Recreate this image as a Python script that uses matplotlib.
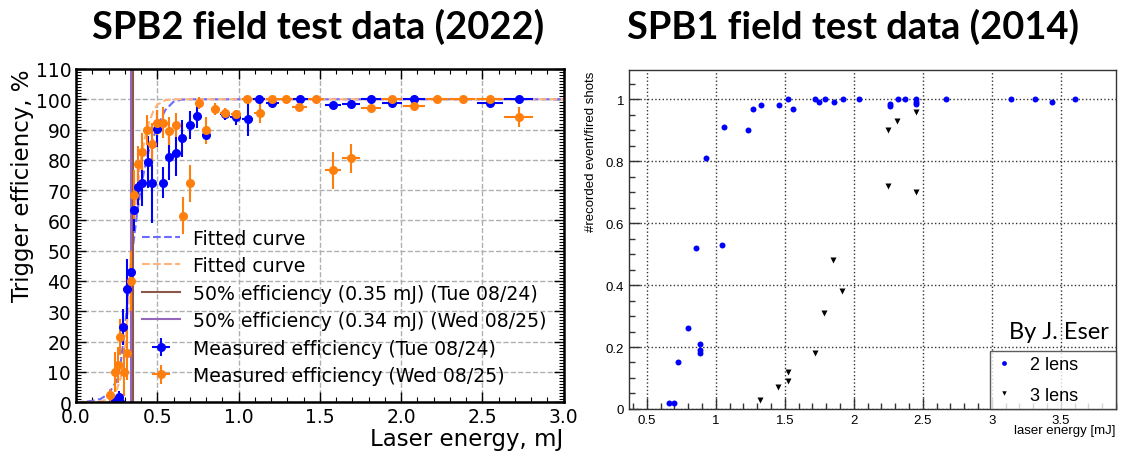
import numpy as np
import matplotlib
matplotlib.use('Agg')
import matplotlib.pyplot as plt
from matplotlib.ticker import MultipleLocator, FuncFormatter

# ---- left panel: SPB2 (2022) ----
tue_e = [0.24, 0.262, 0.272, 0.292, 0.311, 0.337, 0.358, 0.383, 0.409, 0.44, 0.47,
         0.501, 0.538, 0.573, 0.613, 0.654, 0.701, 0.746, 0.798, 0.916, 0.982, 1.057,
         1.127, 1.207, 1.38, 1.581, 1.693, 1.814, 1.943, 2.078, 2.546, 2.724]
tue_eff = [0.5, 1.8, 0.0, 24.7, 37.3, 43.0, 63.6, 71.0, 72.4, 79.3, 72.5,
           90.3, 72.5, 80.9, 82.3, 87.1, 91.5, 94.5, 88.2, 95.0, 94.1, 93.6,
           100, 98.7, 100, 98.2, 98.6, 100, 98.9, 100, 98.9, 100]
tue_yerr = [1, 2, 1, 6, 10, 7, 7, 6, 7.5, 8.5, 13.5,
            6, 5, 7.5, 7.5, 6, 4.7, 4, 1.5, 2, 2.5, 5.8,
            0.3, 0.6, 0.3, 0.6, 0.4, 0.3, 0.5, 0.3, 0.5, 0.3]
tue_xerr = [0.008, 0.009, 0.009, 0.01, 0.01, 0.011, 0.012, 0.013, 0.013, 0.014, 0.015,
            0.016, 0.017, 0.018, 0.02, 0.021, 0.022, 0.024, 0.025, 0.03, 0.032, 0.034,
            0.036, 0.04, 0.045, 0.05, 0.055, 0.06, 0.062, 0.066, 0.08, 0.088]

wed_e = [0.211, 0.239, 0.256, 0.272, 0.297, 0.313, 0.337, 0.358, 0.383, 0.409, 0.436,
         0.47, 0.501, 0.538, 0.573, 0.613, 0.658, 0.701, 0.755, 0.80, 0.857, 0.916,
         0.986, 1.055, 1.129, 1.207, 1.293, 1.374, 1.475, 1.581, 1.693, 1.814, 1.943,
         2.078, 2.223, 2.378, 2.546, 2.724]
wed_eff = [2.3, 10.0, 12.3, 21.4, 10.0, 16.3, 40.0, 68.5, 78.7, 82.7, 89.8,
           85.3, 92.3, 92.3, 89.5, 91.4, 61.6, 72.2, 98.8, 89.7, 96.7, 95.6,
           95.3, 100, 95.6, 100, 100, 97.5, 100, 76.5, 80.5, 97.2, 100,
           97.8, 100, 100, 100, 94.2]
wed_yerr = [2, 6.5, 6, 6, 8, 9, 10, 8, 6, 6, 5,
            7, 4, 5, 4.5, 4, 6, 6, 2, 4.5, 2, 1.5,
            1, 0.3, 3.4, 0.3, 0.3, 0.6, 0.3, 6.2, 4.8, 1, 0.3,
            0.6, 0.3, 0.3, 0.3, 3.3]
wed_xerr = [0.008, 0.009, 0.009, 0.009, 0.01, 0.01, 0.011, 0.012, 0.013, 0.013, 0.014,
            0.015, 0.016, 0.017, 0.018, 0.02, 0.021, 0.022, 0.024, 0.025, 0.027, 0.03,
            0.032, 0.034, 0.036, 0.04, 0.042, 0.045, 0.048, 0.05, 0.055, 0.06, 0.062,
            0.066, 0.07, 0.075, 0.08, 0.09]

# fitted curves
fit_tue_e = [0.0, 0.05, 0.10, 0.15, 0.20, 0.25, 0.275, 0.30, 0.325, 0.35, 0.375, 0.40,
             0.425, 0.45, 0.50, 0.55, 0.60, 0.65, 0.70, 3.0]
fit_tue_eff = [0.0, 0.1, 0.4, 1.0, 2.7, 7.0, 13.0, 24.0, 38.0, 51.0, 62.0, 71.0,
               78.0, 83.5, 91.0, 96.5, 99.2, 99.9, 100, 100]
fit_wed_e = [0.0, 0.10, 0.15, 0.20, 0.225, 0.25, 0.275, 0.30, 0.32, 0.34, 0.36, 0.38,
             0.40, 0.425, 0.45, 0.475, 0.50, 0.55, 0.60, 3.0]
fit_wed_eff = [0.0, 0.05, 0.2, 1.0, 1.8, 4.0, 8.0, 17.0, 30.0, 50.0, 62.0, 72.0,
               80.5, 87.5, 92.5, 96.0, 98.2, 99.7, 100, 100]
half_tue = 0.35
half_wed = 0.34

# ---- right panel: SPB1 (2014) ----
lens2_e = [0.662, 0.698, 0.729, 0.795, 0.86, 0.884, 0.884, 0.884, 0.928, 1.046, 1.058,
           1.234, 1.27, 1.326, 1.459, 1.524, 1.563, 1.722, 1.749, 1.79, 1.855, 1.92,
           2.04, 2.26, 2.26, 2.32, 2.37, 2.45, 2.45, 2.45, 2.67, 3.14, 3.31, 3.44, 3.60]
lens2_eff = [0.02, 0.02, 0.15, 0.26, 0.52, 0.21, 0.19, 0.18, 0.81, 0.53, 0.91,
             0.90, 0.97, 0.98, 0.98, 1.0, 0.97, 1.0, 0.99, 1.0, 0.99, 1.0,
             1.0, 0.985, 0.977, 1.0, 1.0, 1.0, 0.99, 0.985, 1.0, 1.0, 1.0, 0.99, 1.0]
lens3_e = [1.32, 1.45, 1.52, 1.52, 1.72, 1.785, 1.85, 1.915, 2.245, 2.245, 2.31, 2.45, 2.45]
lens3_eff = [0.03, 0.07, 0.09, 0.12, 0.18, 0.31, 0.48, 0.38, 0.72, 0.90, 0.93, 0.96, 0.70]

fig = plt.figure(figsize=(11.21, 4.56), dpi=100)

# ---------- left ----------
ax = fig.add_axes([0.0678, 0.116, 0.435, 0.7305])
blue = '#0000ff'
orange = '#ff7f0e'
ax.plot(fit_tue_e, fit_tue_eff, '--', color='#6b6bff', lw=1.5, label='Fitted curve')
ax.plot(fit_wed_e, fit_wed_eff, '--', color='#ffb37a', lw=1.5, label='Fitted curve')
ax.axvline(half_tue, color='#8c564b', lw=1.5,
           label='50%% efficiency (%.2f mJ) (Tue 08/24)' % half_tue)
ax.axvline(half_wed, color='#9467bd', lw=1.5,
           label='50%% efficiency (%.2f mJ) (Wed 08/25)' % half_wed)
ax.errorbar(tue_e, tue_eff, yerr=tue_yerr, xerr=tue_xerr, fmt='o', color=blue,
            ms=5.5, elinewidth=1.5, capsize=0, label='Measured efficiency (Tue 08/24)')
ax.errorbar(wed_e, wed_eff, yerr=wed_yerr, xerr=wed_xerr, fmt='o', color=orange,
            ms=5.5, elinewidth=1.5, capsize=0, label='Measured efficiency (Wed 08/25)')

ax.set_xlim(0, 3.0)
ax.set_ylim(0, 110)
ax.xaxis.set_major_locator(MultipleLocator(0.5))
ax.xaxis.set_minor_locator(MultipleLocator(0.1))
ax.yaxis.set_major_locator(MultipleLocator(10))
ax.yaxis.set_minor_locator(MultipleLocator(1))
ax.tick_params(which='both', direction='in', top=True, right=True, labelsize=13.5)
ax.tick_params(which='major', length=7, width=1)
ax.tick_params(which='minor', length=3.5, width=0.8)
ax.grid(True, which='major', ls='--', color='#b0b0b0', lw=1)
for s in ax.spines.values():
    s.set_linewidth(1.8)
ax.set_xlabel('Laser energy, mJ', fontsize=16.5, loc='right', labelpad=1)
ax.set_ylabel('Trigger efficiency, %', fontsize=16.5, loc='top', labelpad=1)
ax.legend(loc='lower right', frameon=False, fontsize=13.6, handlelength=2.0,
          labelspacing=0.45, borderaxespad=0.5, handletextpad=0.7)

# ---------- right ----------
ax2 = fig.add_axes([0.561, 0.101, 0.4345, 0.743])
ax2.plot(lens2_e, lens2_eff, 'o', color=blue, ms=4.3, mec='none', label='2 lens')
ax2.plot(lens3_e, lens3_eff, 'v', color='black', ms=4, mec='none', label='3 lens')
ax2.set_xlim(0.37, 3.9)
ax2.set_ylim(0, 1.094)
ax2.xaxis.set_major_locator(MultipleLocator(0.5))
ax2.xaxis.set_minor_locator(MultipleLocator(0.1))
ax2.yaxis.set_major_locator(MultipleLocator(0.2))
ax2.yaxis.set_minor_locator(MultipleLocator(0.05))
fmt = FuncFormatter(lambda v, p: '%g' % round(v, 2))
ax2.xaxis.set_major_formatter(fmt)
ax2.yaxis.set_major_formatter(fmt)
ax2.tick_params(which='both', direction='in', top=False, right=False,
                labelsize=9.5, color='#333333')
ax2.tick_params(which='major', length=8, width=1)
ax2.tick_params(which='minor', length=4, width=1)
ax2.grid(True, which='major', ls=':', color='#333333', lw=1)
for lab in ax2.get_xticklabels() + ax2.get_yticklabels():
    lab.set_family('Liberation Sans')
for s in ax2.spines.values():
    s.set_linewidth(1)
    s.set_color('#333333')
ax2.set_xlabel('laser energy [mJ]', fontsize=9.5, family='Liberation Sans',
               loc='right', labelpad=-1)
ax2.set_ylabel('#recorded event/fired shots', fontsize=9.5, family='Liberation Sans',
               loc='top', labelpad=6)
leg = ax2.legend(loc='lower left', bbox_to_anchor=(0.741, 0.0, 0.259, 0.18),
                 mode='expand', prop={'family': 'Liberation Sans', 'size': 13},
                 frameon=True, fancybox=False, borderaxespad=0, handletextpad=0.9,
                 handlelength=1.0, borderpad=0.3, labelspacing=0.75, markerscale=0.8)
leg.get_frame().set_edgecolor('#333333')
leg.get_frame().set_linewidth(1)
ax2.text(0.985, 0.198, 'By J. Eser', transform=ax2.transAxes, ha='right', va='bottom',
         fontsize=17, family='Lato')

fig.text(0.284, 0.94, 'SPB2 field test data (2022)', ha='center', va='center',
         fontsize=27.4, fontweight='bold', family='Lato')
fig.text(0.7605, 0.94, 'SPB1 field test data (2014)', ha='center', va='center',
         fontsize=27.4, fontweight='bold', family='Lato')

fig.savefig('out.png', dpi=100)
